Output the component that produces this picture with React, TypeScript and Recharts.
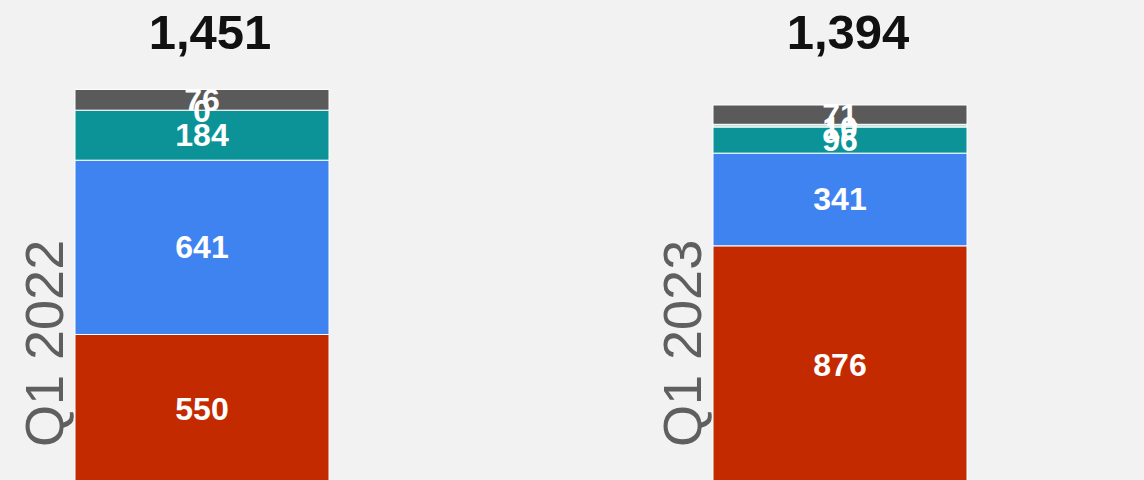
import React from "react";
import { BarChart, Bar, XAxis, YAxis, LabelList } from "recharts";

const categories = ["Q1 2022", "Q1 2023"];
const seriesRed = [550, 876];
const seriesBlue = [641, 341];
const seriesTeal = [184, 96];
const seriesLight = [0, 10];
const seriesGray = [76, 71];
const totals = [1451, 1394];

const data = categories.map((c, i) => ({
  category: c,
  red: seriesRed[i],
  blue: seriesBlue[i],
  teal: seriesTeal[i],
  light: seriesLight[i],
  gray: seriesGray[i],
}));

const FONT = "'Liberation Sans', Arial, sans-serif";

const labelText = (cx: number, cy: number, value: any) => (
  <text
    x={cx}
    y={cy}
    textAnchor="middle"
    dominantBaseline="central"
    fill="#ffffff"
    fontSize={32}
    fontWeight={700}
    fontFamily={FONT}
  >
    {value}
  </text>
);

const SegmentLabel = (props: any) => {
  const { x, y, width, height, value } = props;
  return labelText(x + width / 2, y + height / 2, value);
};

// label of the thin "light" segment, drawn at the top edge of the teal segment
const ThinLabel = (props: any) => {
  const { x, y, width, value } = props;
  return labelText(x + width / 2, y + 1, value);
};

const CategoryLabel = (props: any) => {
  const { x, y, height, index } = props;
  const bx = x - 12;
  const by = y + height - 37;
  return (
    <text
      transform={`translate(${bx},${by}) rotate(-90)`}
      x={0}
      y={0}
      textAnchor="start"
      fill="#5f5f5f"
      fontSize={54}
      fontFamily={FONT}
    >
      {categories[index]}
    </text>
  );
};

const TotalTick = (props: any) => {
  const { x, y, payload } = props;
  const i = categories.indexOf(payload.value);
  return (
    <text
      x={x + 8}
      y={y}
      textAnchor="middle"
      fill="#111111"
      fontSize={49}
      fontWeight={700}
      fontFamily={FONT}
    >
      {totals[i].toLocaleString("en-US")}
    </text>
  );
};

export default function App() {
  return (
    <div
      style={{
        position: "fixed",
        top: 0,
        left: 0,
        width: 1144,
        height: 480,
        overflow: "hidden",
        background: "#f2f2f2",
      }}
    >
      <div style={{ position: "absolute", left: -117, top: 0 }}>
        <BarChart
          width={1276}
          height={484}
          data={data}
          margin={{ top: 0, right: 0, bottom: 0, left: 0 }}
          barSize={254}
        >
          <XAxis
            dataKey="category"
            orientation="top"
            height={49}
            axisLine={false}
            tickLine={false}
            tickSize={0}
            tickMargin={0}
            interval={0}
            tick={<TotalTick />}
          />
          <YAxis hide domain={[0, 1600]} />
          <Bar dataKey="red" stackId="a" fill="#c42a00" stroke="#ffffff" strokeWidth={1} isAnimationActive={false}>
            <LabelList dataKey="red" content={<SegmentLabel />} />
            <LabelList dataKey="category" content={<CategoryLabel />} />
          </Bar>
          <Bar dataKey="blue" stackId="a" fill="#3f83f0" stroke="#ffffff" strokeWidth={1} isAnimationActive={false}>
            <LabelList dataKey="blue" content={<SegmentLabel />} />
          </Bar>
          <Bar dataKey="teal" stackId="a" fill="#0b9397" stroke="#ffffff" strokeWidth={1} isAnimationActive={false}>
            <LabelList dataKey="teal" content={<SegmentLabel />} />
            <LabelList dataKey="light" content={<ThinLabel />} />
          </Bar>
          <Bar dataKey="light" stackId="a" fill="#bfe3d8" stroke="#ffffff" strokeWidth={1} isAnimationActive={false} />
          <Bar dataKey="gray" stackId="a" fill="#5a5a5a" stroke="#ffffff" strokeWidth={1} isAnimationActive={false}>
            <LabelList dataKey="gray" content={<SegmentLabel />} />
          </Bar>
        </BarChart>
      </div>
    </div>
  );
}
